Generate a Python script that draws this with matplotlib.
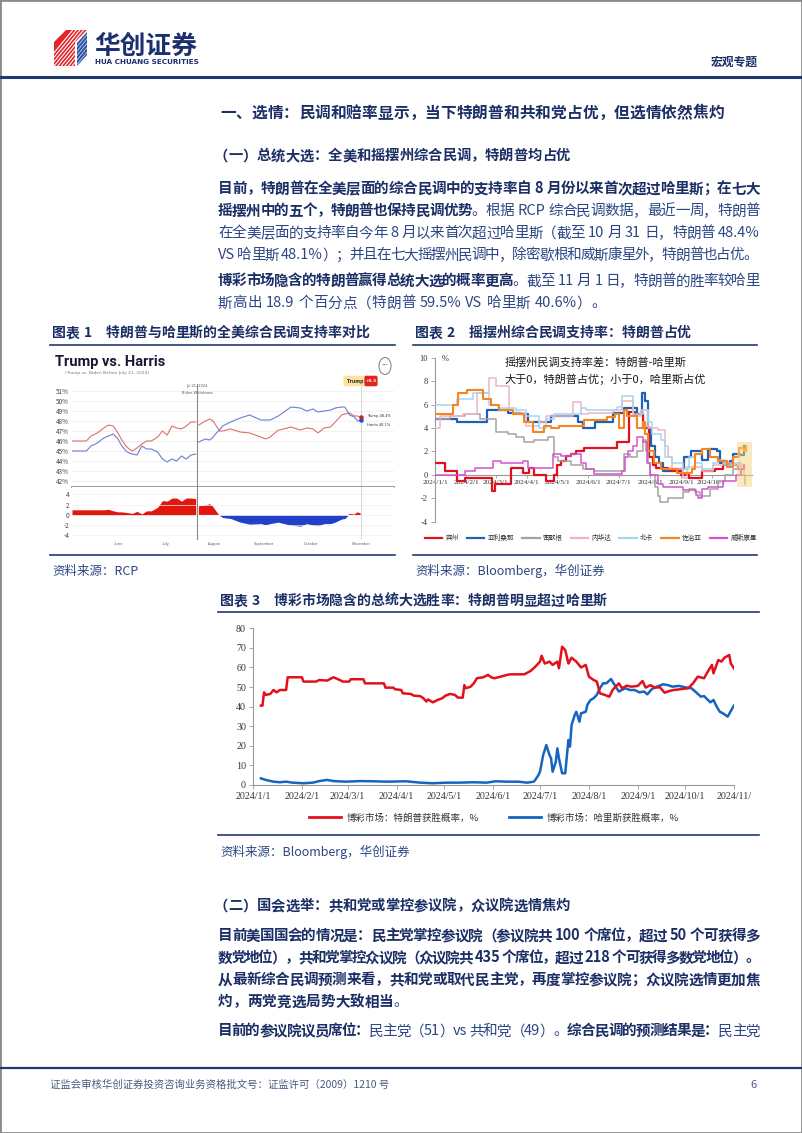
import re
import numpy as np
import pandas as pd
import matplotlib
matplotlib.use('Agg')
import matplotlib.pyplot as plt
import matplotlib.dates as mdates
from matplotlib.lines import Line2D
from matplotlib.patches import Rectangle, Polygon, FancyBboxPatch, Circle
from matplotlib.font_manager import FontProperties

plt.rcParams['font.family'] = ['Noto Sans CJK SC', 'DejaVu Sans']
plt.rcParams['axes.unicode_minus'] = False

# ---------------- data ----------------
# 图表1: RCP national average (Trump vs Biden before Jul 21, Trump vs Harris after)
rcp_pre_dates = ['2024-05-03', '2024-05-12', '2024-05-15', '2024-05-19', '2024-05-23', '2024-05-26',
                 '2024-05-29', '2024-06-01', '2024-06-03', '2024-06-06', '2024-06-08', '2024-06-10',
                 '2024-06-13', '2024-06-16', '2024-06-19', '2024-06-22', '2024-06-26', '2024-06-29',
                 '2024-07-02', '2024-07-05', '2024-07-08', '2024-07-11', '2024-07-14', '2024-07-17',
                 '2024-07-20']
rcp_pre_trump = [46.0, 46.0, 46.5, 46.8, 47.3, 47.6, 47.5, 46.8, 46.2, 45.5, 45.2, 45.0, 45.3, 45.7,
                 46.0, 46.0, 46.4, 47.0, 46.6, 47.5, 47.3, 47.2, 47.5, 47.9, 47.9]
rcp_pre_biden = [45.0, 45.0, 45.5, 45.8, 46.3, 46.5, 46.7, 46.2, 45.6, 45.0, 44.8, 44.7, 44.6, 45.5,
                 45.2, 45.2, 44.9, 44.2, 43.9, 44.2, 44.0, 44.5, 44.2, 44.6, 44.7]
rcp_post_dates = ['2024-07-22', '2024-07-26', '2024-07-29', '2024-07-31', '2024-08-02', '2024-08-04',
                  '2024-08-06', '2024-08-11', '2024-08-17', '2024-08-23', '2024-08-30', '2024-09-02',
                  '2024-09-05', '2024-09-10', '2024-09-11', '2024-09-18', '2024-09-24', '2024-09-28',
                  '2024-10-02', '2024-10-05', '2024-10-09', '2024-10-13', '2024-10-16', '2024-10-20',
                  '2024-10-22', '2024-10-25', '2024-10-28', '2024-10-30', '2024-11-01']
rcp_post_trump = [47.6, 48.0, 48.2, 48.0, 47.5, 47.0, 47.0, 47.2, 46.9, 46.8, 46.4, 46.2, 46.4, 47.1,
                  47.1, 47.4, 47.1, 47.3, 47.2, 46.8, 47.3, 47.4, 47.9, 48.6, 48.7, 48.8, 48.5, 48.5, 48.4]
rcp_post_harris = [45.9, 46.2, 46.1, 46.4, 46.8, 47.1, 47.5, 47.9, 48.3, 48.6, 48.1, 48.1, 48.1, 48.5,
                   48.6, 49.4, 49.3, 49.0, 49.2, 48.9, 49.0, 49.1, 49.3, 49.4, 49.4, 48.6, 48.4, 48.0, 48.1]
rcp_yticks = [42, 43, 44, 45, 46, 47, 48, 49, 50, 51]
rcp_months = ['June', 'July', 'August', 'September', 'October', 'November']

# 图表2: swing-state spread (Trump - Harris), (day of 2024, value), step series
pa_pts = [(0, 1.0), (10, 0.3), (22, -0.5), (30, -0.3), (56, -1.4), (59, -0.8), (75, 0.6), (87, 0.2),
          (93, 0.6), (98, 0.0), (110, -0.5), (118, 0.0), (121, 0.8), (125, 1.2), (130, 1.6), (135, 1.8),
          (140, 2.0), (148, 2.3), (180, 2.8), (192, 5.4), (198, 5.2), (206, 4.0), (212, 1.5), (216, 0.8),
          (219, 0.6), (231, 0.3), (244, 0.0), (252, -0.3), (264, 0.3), (277, 0.5), (285, 1.0),
          (295, 0.8), (300, 0.5), (306, 0.8)]
az_pts = [(0, 4.8), (22, 4.5), (52, 5.5), (72, 5.3), (85, 5.2), (92, 4.5), (115, 5.0), (142, 4.5),
          (147, 4.0), (158, 4.5), (176, 5.3), (187, 5.7), (200, 5.2), (205, 7.0), (208, 6.3), (211, 4.0),
          (214, 2.5), (218, 1.5), (222, 1.0), (226, 0.3), (232, 0.5), (247, 1.5), (254, 2.0), (264, 1.3),
          (270, 2.2), (279, 2.0), (282, 1.0), (287, 0.8), (292, 1.2), (295, 1.8), (302, 1.7), (306, 2.5)]
mi_pts = [(0, 4.8), (15, 5.0), (30, 5.2), (45, 4.8), (60, 3.7), (72, 3.5), (80, 3.2), (88, 2.8),
          (98, 3.0), (112, 3.2), (118, 1.5), (122, 1.2), (135, 0.8), (147, 0.5), (157, 0.3), (187, 1.8),
          (193, 1.5), (200, 2.0), (206, 3.0), (209, 2.0), (211, 1.0), (213, 0.0), (218, -1.0),
          (221, -1.8), (223, -2.3), (231, -2.0), (246, -1.5), (252, -1.2), (258, -1.5), (262, -1.8),
          (272, -1.2), (280, -0.5), (287, 0.0), (295, 0.5), (300, 1.0), (303, 0.0), (307, -0.8)]
nv_pts = [(0, 4.0), (5, 5.0), (28, 5.2), (42, 7.0), (53, 8.3), (60, 7.6), (73, 5.5), (77, 5.3),
          (90, 4.2), (103, 4.5), (110, 5.0), (137, 6.2), (145, 5.2), (152, 5.3), (176, 5.5), (185, 6.3),
          (196, 5.0), (204, 5.5), (211, 4.0), (221, 3.8), (228, 2.5), (231, 1.5), (235, 0.5),
          (246, -0.3), (250, 0.7), (264, 0.3), (275, 0.8), (285, 1.0), (296, 0.8), (306, 0.2)]
nc_pts = [(0, 6.0), (22, 6.5), (38, 7.0), (53, 6.0), (62, 5.7), (80, 5.5), (90, 5.0), (103, 4.0),
          (110, 4.8), (118, 5.2), (145, 5.7), (150, 5.5), (180, 5.8), (185, 6.7), (196, 5.2), (206, 5.5),
          (211, 4.5), (215, 3.5), (224, 3.0), (228, 1.5), (235, 1.0), (246, 0.5), (252, 1.5), (258, 1.0),
          (264, 0.5), (275, 1.0), (280, 1.3), (287, 0.8), (297, 1.0), (302, 0.5)]
ga_pts = [(0, 5.2), (18, 6.0), (23, 7.0), (32, 7.2), (48, 6.5), (55, 6.0), (63, 5.5), (77, 5.2),
          (88, 4.5), (97, 3.7), (108, 4.2), (115, 4.0), (123, 4.2), (148, 4.7), (170, 4.9), (178, 5.2),
          (182, 4.0), (187, 5.5), (190, 5.0), (200, 4.0), (206, 4.5), (208, 3.5), (211, 2.0), (217, 1.0),
          (224, 0.5), (240, 0.2), (255, 0.5), (258, 1.8), (264, 2.2), (272, 1.5), (280, 1.2), (289, 0.7),
          (295, 1.5), (301, 2.3), (306, 2.0), (308, 2.5)]
wi_pts = [(0, 0.0), (30, 0.3), (40, 0.6), (57, 1.2), (65, 1.0), (87, 1.2), (92, 0.6), (117, 1.8),
          (125, 1.6), (135, 1.8), (145, 1.0), (150, 0.5), (157, 0.1), (185, 0.3), (188, 1.5), (191, 2.0),
          (196, 2.5), (200, 3.2), (206, 2.8), (210, 1.0), (213, 0.0), (221, -0.8), (226, -1.0),
          (246, -1.3), (259, -1.7), (261, -2.0), (264, -1.2), (270, -1.0), (285, -0.5), (298, 0.0),
          (303, 0.5), (306, 0.8)]
state_names = ['宾州', '亚利桑那', '密歇根', '内华达', '北卡', '佐治亚', '威斯康星']

# 图表3: betting-market implied win probability, (day of 2024, %)
bet_trump = [(5, 40.5), (6, 40.5), (7, 47.3), (8, 46.0), (11, 46.5), (13, 48.5), (15, 47.3), (17, 48.5),
             (21, 48.5), (22, 55.0), (31, 55.0), (32, 52.8), (40, 52.8), (42, 53.6), (47, 53.3),
             (51, 55.0), (55, 53.6), (57, 52.8), (61, 52.8), (62, 54.0), (70, 54.0), (71, 51.9),
             (83, 51.9), (84, 49.7), (89, 49.7), (90, 48.9), (94, 48.5), (95, 46.8), (100, 46.5),
             (102, 45.6), (106, 45.4), (108, 44.3), (110, 42.6), (111, 43.7), (114, 42.2), (117, 43.4),
             (120, 44.3), (122, 45.6), (125, 46.5), (128, 46.0), (130, 44.6), (133, 44.6), (134, 51.0),
             (135, 49.4), (138, 50.2), (140, 51.9), (142, 54.5), (146, 55.0), (149, 56.2), (151, 55.0),
             (153, 54.5), (157, 55.3), (161, 56.2), (163, 56.5), (172, 56.5), (176, 58.2), (179, 60.4),
             (182, 63.0), (183, 66.0), (185, 62.0), (188, 63.0), (190, 61.3), (193, 63.0), (194, 59.6),
             (196, 70.6), (198, 68.9), (200, 62.0), (202, 65.0), (205, 63.0), (208, 60.0), (211, 61.3),
             (213, 55.3), (216, 53.6), (218, 52.8), (220, 46.8), (223, 46.0), (226, 45.1), (228, 48.5),
             (232, 51.9), (234, 49.4), (237, 50.7), (240, 50.2), (244, 50.6), (247, 53.1), (249, 49.7),
             (252, 51.0), (255, 49.7), (258, 49.9), (261, 47.1), (264, 48.0), (267, 48.5), (272, 49.0),
             (276, 49.4), (279, 51.9), (282, 55.3), (286, 54.5), (289, 58.7), (291, 61.3), (292, 57.0),
             (295, 63.8), (297, 63.0), (299, 65.0), (302, 66.4), (303, 62.0), (305, 59.5)]
bet_harris = [(5, 3.4), (8, 2.6), (13, 1.7), (17, 1.4), (21, 1.7), (25, 1.2), (32, 0.9), (38, 1.2),
              (42, 2.0), (47, 2.6), (51, 2.0), (59, 1.7), (68, 2.0), (76, 1.9), (85, 1.7), (97, 1.9),
              (106, 1.2), (114, 0.9), (123, 1.2), (131, 1.2), (140, 1.4), (148, 1.2), (154, 1.9),
              (161, 1.7), (168, 1.7), (174, 1.2), (178, 1.7), (179, 2.6), (181, 5.1), (182, 6.8),
              (184, 15.3), (186, 20.4), (188, 15.3), (189, 13.6), (190, 6.8), (192, 11.9), (193, 18.7),
              (194, 13.6), (196, 6.0), (198, 6.0), (200, 23.0), (201, 19.6), (202, 30.6), (204, 35.7),
              (205, 37.4), (207, 32.3), (208, 36.6), (211, 37.4), (212, 40.9), (214, 43.4), (216, 44.3),
              (218, 46.0), (220, 49.4), (222, 51.9), (224, 51.9), (227, 54.1), (230, 50.2), (232, 47.7),
              (236, 49.4), (239, 48.5), (242, 48.5), (245, 47.3), (248, 47.7), (250, 46.3), (253, 49.0),
              (256, 50.2), (260, 51.4), (263, 51.0), (266, 50.2), (270, 50.6), (275, 49.7), (278, 49.4),
              (281, 47.3), (284, 45.1), (286, 45.4), (290, 42.2), (292, 43.4), (294, 40.0), (296, 37.4),
              (298, 36.6), (301, 34.9), (303, 37.8), (305, 40.6)]
bet_labels = ['博彩市场：特朗普获胜概率，%', '博彩市场：哈里斯获胜概率，%']

# ---------------- page helpers ----------------
W, H = 802, 1133
NAVY = '#1b2f66'
BODY = '#2c4785'
RULE = '#1f3a70'
FAM = ['Noto Sans CJK SC', 'DejaVu Sans']

fig = plt.figure(figsize=(W / 100, H / 100), dpi=100)
fig.patch.set_facecolor('white')
R = fig.canvas.get_renderer()


def fx(x):
    return x / W


def fy(y):
    return 1 - y / H


def P(x, y):
    return (fx(x), fy(y))


def ax_at(x0, y0, x1, y1):
    return fig.add_axes([fx(x0), fy(y1), (x1 - x0) / W, (y1 - y0) / H])


def hline(x0, x1, y, color=RULE, lw=1.2):
    fig.add_artist(Line2D([fx(x0), fx(x1)], [fy(y), fy(y)], color=color, lw=lw))


def adv(s, prop):
    w1 = R.get_text_width_height_descent(s + '中', prop, ismath=False)[0]
    w0 = R.get_text_width_height_descent('中', prop, ismath=False)[0]
    return w1 - w0


def rich(y, parts, x0=218, x1=None, size=10.5, color_b=NAVY, color_n=BODY):
    # draw a line made of (text, bold) parts; optionally justified to x1
    toks = []
    for s, bold in parts:
        prop = FontProperties(family=FAM, size=size, weight='bold' if bold else 'normal')
        sp = size * 1.389 * 0.28
        for tk in re.findall(r' +|[\x21-\x7e]+|.', s):
            if tk.startswith(' '):
                toks.append((None, bold, prop, sp * len(tk)))
            else:
                toks.append((tk, bold, prop, adv(tk, prop)))
    natural = sum(t[3] for t in toks)
    gap = 0
    if x1 is not None and len(toks) > 1:
        gap = (x1 - x0 - natural) / (len(toks) - 1)
    base = y + 0.37 * size * 1.389
    x = x0
    for tk, bold, prop, a in toks:
        if tk is not None:
            fig.text(fx(x), fy(base), tk, fontproperties=prop,
                     color=color_b if bold else color_n, va='baseline', ha='left')
        x += a + gap


# ---------------- page frame & header ----------------
fig.add_artist(Rectangle((0, 0), 1, 1, transform=fig.transFigure, fill=False, ec='#8a8a8a', lw=2))

red_face = Polygon([P(54, 42), P(66, 30), P(87, 30), P(75, 42), P(75, 66), P(54, 66)],
                   closed=True, transform=fig.transFigure, fc='#e0262b', ec='none')
blue_face = Polygon([P(77, 43), P(87, 32), P(87, 55), P(77, 66)],
                    closed=True, transform=fig.transFigure, fc='#2b4fa3', ec='none')
fig.add_artist(red_face)
fig.add_artist(blue_face)
for k in range(14):
    xs = 40 + k * 3.6
    ln = Line2D([fx(xs), fx(xs + 36)], [fy(70), fy(26)], color='white', lw=0.8,
                transform=fig.transFigure)
    fig.add_artist(ln)
    ln.set_clip_path(red_face)
    ln2 = Line2D([fx(xs), fx(xs + 36)], [fy(70), fy(26)], color='#c9d3ea', lw=0.6,
                 transform=fig.transFigure)
    fig.add_artist(ln2)
    ln2.set_clip_path(blue_face)

fig.text(fx(94), fy(46), '华创证券', fontsize=18.5, fontweight='bold', color='#1c2f6e',
         va='center', ha='left')
fig.text(fx(95), fy(62), 'HUA CHUANG SECURITIES', fontsize=5.2, fontweight='bold', color='#1c2f6e',
         va='center', ha='left', family='DejaVu Sans')
fig.text(fx(758), fy(62), '宏观专题', fontsize=8.5, fontweight='bold', color=NAVY, va='center', ha='right')
hline(0, W, 77, lw=2.2)

# ---------------- body text, part 1 ----------------
rich(112, [('一、选情：民调和赔率显示，当下特朗普和共和党占优，但选情依然焦灼', True)], x0=220, size=11.3)
rich(155, [('（一）总统大选：全美和摇摆州综合民调，特朗普均占优', True)], x0=214, size=10.3)
rich(188, [('目前，特朗普在全美层面的综合民调中的支持率自 8 月份以来首次超过哈里斯；在七大', True)], x1=760)
rich(210, [('摇摆州中的五个，特朗普也保持民调优势', True), ('。根据 RCP 综合民调数据，最近一周，特朗普', False)], x1=760)
rich(232, [('在全美层面的支持率自今年 8 月以来首次超过哈里斯（截至 10 月 31 日，特朗普 48.4%', False)], x1=760)
rich(254, [('VS 哈里斯 48.1%）；并且在七大摇摆州民调中，除密歇根和威斯康星外，特朗普也占优。', False)], x1=758)
rich(280, [('博彩市场隐含的特朗普赢得总统大选的概率更高', True), ('。截至 11 月 1 日，特朗普的胜率较哈里', False)], x1=760)
rich(302, [('斯高出 18.9 个百分点（特朗普 59.5% VS 哈里斯 40.6%）。', False)])

# chart titles / rules / sources
rich(332, [('图表 1　特朗普与哈里斯的全美综合民调支持率对比', True)], x0=52, size=10)
rich(332, [('图表 2　摇摆州综合民调支持率：特朗普占优', True)], x0=415, size=10)
hline(50, 395, 345)
hline(413, 757, 345)
hline(50, 395, 555)
hline(413, 757, 555)
fig.text(fx(52), fy(571), '资料来源：RCP', fontsize=9, color=BODY, va='center', style='italic')
fig.text(fx(415), fy(571), '资料来源：Bloomberg，华创证券', fontsize=9, color=BODY, va='center', style='italic')

# ---------------- chart 1: RCP ----------------
pre_d = mdates.date2num(pd.to_datetime(rcp_pre_dates))
post_d = mdates.date2num(pd.to_datetime(rcp_post_dates))
pre_tr = np.array(rcp_pre_trump)
pre_bi = np.array(rcp_pre_biden)
post_tr = np.array(rcp_post_trump)
post_ha = np.array(rcp_post_harris)
jul21 = mdates.date2num(pd.Timestamp('2024-07-21'))
nov1 = mdates.date2num(pd.Timestamp('2024-11-01'))
xl = (mdates.date2num(pd.Timestamp('2024-05-03')), mdates.date2num(pd.Timestamp('2024-11-22')))

fig.text(fx(55), fy(362), 'Trump vs. Harris', fontsize=10.5, fontweight='bold', color='#1b1530',
         va='center', ha='left', family=['Liberation Sans Narrow', 'Roboto', 'DejaVu Sans'])
fig.text(fx(65), fy(373), '(Trump vs. Biden Before July 21, 2024)', fontsize=3.2, color='#777',
         va='center', ha='left', family='DejaVu Sans')
fig.add_artist(Circle(P(385, 366), 6 / W, transform=fig.transFigure, fill=False, ec='#888', lw=0.8))
fig.text(fx(385), fy(366), '•••', fontsize=3, color='#555', ha='center', va='center', family='DejaVu Sans')
fig.add_artist(FancyBboxPatch(P(345, 384), 20 / W, 6 / H, boxstyle='round,pad=0.002',
                              transform=fig.transFigure, fc='#fbe3a0', ec='none'))
fig.text(fx(355), fy(381), 'Trump', fontsize=3.3, fontweight='bold', color='#333', ha='center',
         va='center', family='DejaVu Sans')
fig.add_artist(FancyBboxPatch(P(366, 384), 10 / W, 6 / H, boxstyle='round,pad=0.002',
                              transform=fig.transFigure, fc='#e3231f', ec='none'))
fig.text(fx(371), fy(381), '+0.3', fontsize=3.1, fontweight='bold', color='white', ha='center',
         va='center', family='DejaVu Sans')

a1 = ax_at(72, 384, 394, 487)
a1.plot(pre_d, pre_tr, color='#e0706a', lw=0.8)
a1.plot(pre_d, pre_bi, color='#6b7fd0', lw=0.8)
a1.plot(post_d, post_tr, color='#e0706a', lw=0.8)
a1.plot(post_d, post_ha, color='#6b7fd0', lw=0.8)
a1.scatter([nov1], [post_tr[-1]], s=5, color='#d42020', zorder=5)
a1.scatter([nov1], [post_ha[-1]], s=5, color='#2a4cc0', zorder=5)
a1.text(nov1 + 4, post_tr[-1] + 0.05, 'Trump 48.4%', fontsize=2.6, color='#333', va='center',
        family='DejaVu Sans')
a1.text(nov1 + 4, post_ha[-1] - 0.55, 'Harris 48.1%', fontsize=2.6, color='#333', va='center',
        family='DejaVu Sans')
a1.set_xlim(*xl)
a1.set_ylim(41.4, 51.7)
a1.set_yticks(rcp_yticks)
a1.set_yticklabels([f'{v}%' for v in rcp_yticks])
a1.tick_params(axis='y', length=0, labelsize=4.6, labelcolor='#444', pad=2)
a1.set_xticks([])
a1.grid(axis='y', color='#ececec', lw=0.5)
for s in ['top', 'right', 'left']:
    a1.spines[s].set_visible(False)
a1.spines['bottom'].set_color('#8a8a8a')
a1.spines['bottom'].set_linewidth(1.2)
a1.axvline(jul21, color='#8a8a8a', lw=0.8)
a1.axvline(nov1, color='#c8c8c8', lw=0.5)
a1.text(jul21, 51.45, 'Jul 21, 2024', fontsize=2.6, color='#555', ha='center', va='center',
        family='DejaVu Sans')
a1.text(jul21, 50.75, 'Biden Withdraws', fontsize=2.6, color='#555', ha='center', va='center',
        family='DejaVu Sans')

a2 = ax_at(72, 487, 394, 540)
pre_sp = pre_tr - pre_bi
post_sp = post_tr - post_ha
a2.fill_between(pre_d, 0, pre_sp, where=pre_sp >= 0, color='#e3150f', lw=0, interpolate=True)
a2.fill_between(post_d, 0, post_sp, where=post_sp >= 0, color='#e3150f', lw=0, interpolate=True)
a2.fill_between(post_d, 0, post_sp, where=post_sp <= 0, color='#2340c8', lw=0, interpolate=True)
a2.set_xlim(*xl)
a2.set_ylim(-4.9, 5.46)
a2.set_yticks([-4, -2, 0, 2, 4])
a2.tick_params(axis='y', length=0, labelsize=4.6, labelcolor='#444', pad=2)
month_pos = mdates.date2num(pd.date_range('2024-06-01', '2024-11-01', freq='MS'))
a2.set_xticks(month_pos)
a2.set_xticklabels(rcp_months)
a2.tick_params(axis='x', length=0, labelsize=2.8, labelcolor='#555', pad=1.5)
a2.grid(axis='y', color='#f0f0f0', lw=0.5)
for s in a2.spines.values():
    s.set_visible(False)
a2.axvline(jul21, color='#8a8a8a', lw=0.8)
a2.axvline(nov1, color='#c8c8c8', lw=0.5)

# ---------------- chart 2: swing states ----------------
state_series = [pa_pts, az_pts, mi_pts, nv_pts, nc_pts, ga_pts, wi_pts]
state_colors = ['#e0101e', '#1f5fb4', '#a3a3a3', '#f2b3c3', '#a8d4ee', '#f5861f', '#d452cc']
state_lw = [1.6, 1.6, 1.1, 1.1, 1.1, 1.5, 1.1]
draw_order = [4, 3, 2, 6, 5, 1, 0]

b = ax_at(435, 357.7, 752, 521.7)
for i in draw_order:
    d, v = zip(*state_series[i])
    b.step(d, v, where='post', color=state_colors[i], lw=state_lw[i], zorder=3 + i * 0.1)
b.add_patch(Rectangle((299, -1.05), 15, 3.85, fc='#f6d47f', ec='none', alpha=0.5, zorder=6))
b.set_xlim(0, 314)
b.set_ylim(-4, 10)
b.set_yticks(range(-4, 11, 2))
mstarts = pd.date_range('2024-01-01', '2024-10-01', freq='MS')
b.set_xticks([(m - pd.Timestamp('2024-01-01')).days for m in mstarts])
b.set_xticklabels([f'2024/{m.month}/1' for m in mstarts])
for s in ['top', 'right']:
    b.spines[s].set_visible(False)
b.spines['bottom'].set_position(('data', 0))
b.spines['bottom'].set_color('#999')
b.spines['left'].set_color('#999')
b.tick_params(axis='y', direction='out', length=3, width=0.6, color='#999', labelsize=6, pad=2)
b.tick_params(axis='x', direction='out', length=2.5, width=0.6, color='#999', labelsize=5.2, pad=1)
for t in b.get_xticklabels() + b.get_yticklabels():
    t.set_family('Liberation Serif')
    t.set_color('#333')
b.text(7, 9.9, '%', fontsize=6, color='#333', va='center', family='Liberation Serif')
b.text(69, 9.55, '摇摆州民调支持率差：特朗普-哈里斯', fontsize=8, color='#1a1a1a', va='center')
b.text(69, 8.2, '大于0，特朗普占优；小于0，哈里斯占优', fontsize=8, color='#1a1a1a', va='center')
b.legend([Line2D([], [], color=c, lw=1.6) for c in state_colors], state_names,
         loc='center', bbox_to_anchor=(fx(591), fy(538)), bbox_transform=fig.transFigure,
         ncol=7, frameon=False, fontsize=4.8, handlelength=2.6, handletextpad=0.5, columnspacing=1.2,
         labelcolor='#333')

# ---------------- chart 3: betting market ----------------
rich(600, [('图表 3　博彩市场隐含的总统大选胜率：特朗普明显超过哈里斯', True)], x0=220, size=10)
hline(218, 759, 612)
c = ax_at(253, 628.3, 734, 785)
d, v = zip(*bet_trump)
c.plot(d, v, color='#e3101c', lw=1.8, zorder=4)
d, v = zip(*bet_harris)
c.plot(d, v, color='#1565c0', lw=1.8, zorder=3)
c.set_xlim(0, 305)
c.set_ylim(0, 80)
c.set_yticks(range(0, 81, 10))
mstarts3 = pd.date_range('2024-01-01', '2024-11-01', freq='MS')
c.set_xticks([(m - pd.Timestamp('2024-01-01')).days for m in mstarts3])
c.set_xticklabels([f'2024/{m.month}/1' if m.month < 11 else '2024/11/' for m in mstarts3])
for s in ['top', 'right']:
    c.spines[s].set_visible(False)
c.spines['bottom'].set_color('#999')
c.spines['left'].set_color('#999')
c.tick_params(axis='both', direction='out', length=3, width=0.6, color='#999', labelsize=7.2, pad=2)
for t in c.get_xticklabels() + c.get_yticklabels():
    t.set_family('Liberation Serif')
    t.set_color('#333')
fig.legend([Line2D([], [], color='#e3101c', lw=2), Line2D([], [], color='#1565c0', lw=2)], bet_labels,
           loc='center', bbox_to_anchor=(fx(494), fy(818)), ncol=2, frameon=False, fontsize=6.8,
           handlelength=3.4, handletextpad=0.6, columnspacing=3.2, labelcolor='#333')
hline(218, 759, 835)
fig.text(fx(220), fy(852), '资料来源：Bloomberg，华创证券', fontsize=9, color=BODY, va='center', style='italic')

# ---------------- body text, part 2 ----------------
rich(905, [('（二）国会选举：共和党或掌控参议院，众议院选情焦灼', True)], x0=214, size=10.3)
rich(935, [('目前美国国会的情况是：民主党掌控参议院（参议院共 100 个席位，超过 50 个可获得多', True)], x1=760)
rich(957, [('数党地位），共和党掌控众议院（众议院共 435 个席位，超过 218 个可获得多数党地位）。', True)], x1=760)
rich(979, [('从最新综合民调预测来看，共和党或取代民主党，再度掌控参议院；众议院选情更加焦', True)], x1=760)
rich(1001, [('灼，两党竞选局势大致相当', True), ('。', False)])
rich(1030, [('目前的参议院议员席位：', True), ('民主党（51）vs 共和党（49）。', False),
            ('综合民调的预测结果是：', True), ('民主党', False)], x1=760)

# ---------------- footer ----------------
hline(0, W, 1068, lw=1.6)
fig.text(fx(50), fy(1085), '证监会审核华创证券投资咨询业务资格批文号：证监许可（2009）1210 号',
         fontsize=7.5, color='#4a5a80', va='center', ha='left')
fig.text(fx(757), fy(1085), '6', fontsize=8, color='#4a5a80', va='center', ha='right')

fig.savefig('out.png', dpi=100, facecolor='white')
